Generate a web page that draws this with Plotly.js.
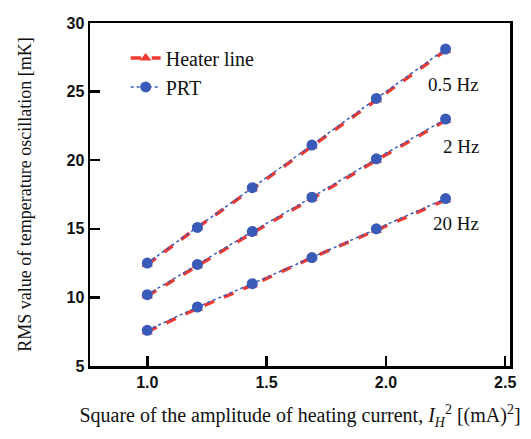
<!DOCTYPE html>
<html><head><meta charset="utf-8">
<script src="https://cdn.plot.ly/plotly-3.0.1.min.js"></script>
<style>body{margin:0;background:#fff}#c{width:531px;height:439px}</style>
</head><body><div id="c"></div>
<script>
const currentSq = [1.0, 1.21, 1.44, 1.69, 1.96, 2.25];
const heater05 = [12.4, 15.1, 17.9, 21.0, 24.4, 28.0];
const prt05 = [12.5, 15.1, 18.0, 21.1, 24.5, 28.1];
const heater2 = [10.1, 12.3, 14.7, 17.2, 20.0, 22.9];
const prt2 = [10.2, 12.4, 14.8, 17.3, 20.1, 23.0];
const heater20 = [7.5, 9.2, 10.9, 12.9, 14.9, 17.1];
const prt20 = [7.6, 9.3, 11.0, 12.9, 15.0, 17.2];
const freqLabels = ["0.5 Hz", "2 Hz", "20 Hz"];
const labelY = [25.5, 21.0, 15.4];
const seriesNames = ["Heater line", "PRT"];

const red = "#ee3a30", blue = "#3a5ab8";
const serif = "Liberation Serif, Times New Roman, serif";
const heaters = [heater05, heater2, heater20];
const prts = [prt05, prt2, prt20];
const traces = [];
heaters.forEach((h, i) => traces.push({
  x: currentSq, y: h, mode: "lines+markers", name: seriesNames[0], showlegend: i === 0,
  line: {color: red, width: 3.5, dash: "dash"},
  marker: {symbol: "triangle-up", size: 10, color: red}
}));
prts.forEach((p, i) => traces.push({
  x: currentSq, y: p, mode: "lines+markers", name: seriesNames[1], showlegend: i === 0,
  line: {color: blue, width: 1.5, dash: "dot"},
  marker: {symbol: "circle", size: 11, color: blue}
}));

const annotations = freqLabels.map((t, i) => ({
  x: 2.40, y: labelY[i], xref: "x", yref: "y", xanchor: "right", text: t, showarrow: false,
  font: {family: serif, size: 19, color: "#111"}
}));

Plotly.newPlot("c", traces, {
  width: 531, height: 439,
  margin: {l: 90, r: 21, t: 23, b: 73},
  paper_bgcolor: "#fff", plot_bgcolor: "#fff",
  showlegend: true,
  legend: {x: 0.085, y: 0.955, xanchor: "left", yanchor: "top", bgcolor: "rgba(0,0,0,0)",
    font: {family: serif, size: 20, color: "#111"},
    tracegroupgap: 0},
  annotations: annotations,
  xaxis: {range: [0.76, 2.52], tickvals: [1.0, 1.5, 2.0, 2.5], ticktext: ["1.0", "1.5", "2.0", "2.5"],
    ticks: "inside", ticklen: 10, tickwidth: 2.5, tickcolor: "#000",
    showline: true, linecolor: "#000", linewidth: 2.5, mirror: true, showgrid: false, zeroline: false,
    tickfont: {family: "Liberation Sans, Arial, sans-serif", size: 16, color: "#111", weight: "bold"},
    title: {text: "Square of the amplitude of heating current, <i>I</i><sub><i>H</i></sub><sup>2</sup> [(mA)<sup>2</sup>]",
      font: {family: serif, size: 20, color: "#111"}, standoff: 19}},
  yaxis: {range: [5, 30], tickvals: [5, 10, 15, 20, 25, 30],
    ticks: "inside", ticklen: 10, tickwidth: 2.5, tickcolor: "#000",
    showline: true, linecolor: "#000", linewidth: 2.5, mirror: true, showgrid: false, zeroline: false,
    tickfont: {family: "Liberation Sans, Arial, sans-serif", size: 16, color: "#111", weight: "bold"},
    title: {text: "RMS value of temperature oscillation [mK]",
      font: {family: serif, size: 18, color: "#111"}, standoff: 30}}
}, {displayModeBar: false, staticPlot: true});
</script></body></html>
